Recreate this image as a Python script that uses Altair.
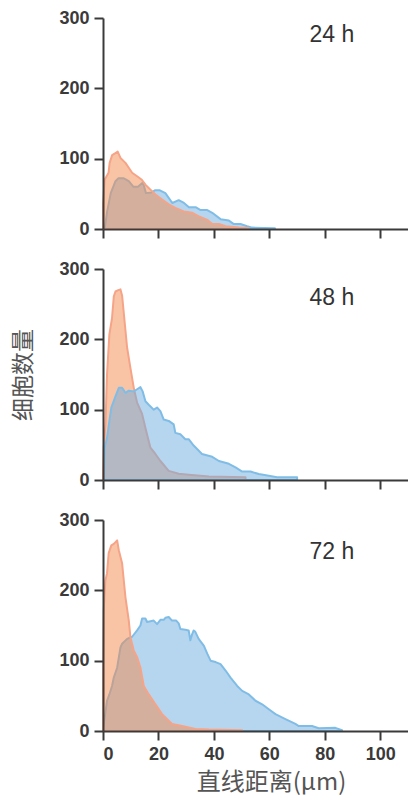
import altair as alt
import pandas as pd

# ---------------- data ----------------
panel_labels = ["24 h", "48 h", "72 h"]
label_x = [74.5, 74.5, 74.5]
label_y = [266, 249, 245]

# 24 h
orange_24_x = [0, 0.6, 2, 2.4, 3.3, 4.5, 5.3, 6.3, 8.1, 9.3, 10.5, 12.3, 14, 15.3, 17.1, 18.9,
               21.3, 23.7, 26.1, 29.1, 32.2, 34.6, 37.6, 39.4, 41.8, 44.2, 49, 52.6]
orange_24_y = [35, 70, 80, 94, 105, 108, 110, 101, 94, 87, 80, 75, 70, 63, 56, 49,
               42, 35, 30, 25, 23, 18, 13, 7, 7, 4, 2, 1]
blue_24_x = [0.6, 1.5, 2.8, 4.5, 5.5, 7.5, 9.3, 11, 12.6, 14.4, 15.5, 17.5, 18.7, 20.5, 22.5,
             25, 27.3, 29.2, 31, 33.4, 35.2, 37.6, 39.4, 42.4, 45.4, 47.2, 49.6, 52, 53.8, 62]
blue_24_y = [0, 25, 51, 68, 72, 72, 68, 60, 60, 66, 51, 52, 55, 55, 51,
             37, 41, 37, 31, 31, 27, 27, 23, 14, 12, 7, 7, 4, 2, 1]

# 48 h
orange_48_x = [0, 0.25, 0.9, 1.45, 2.3, 3.25, 3.9, 4.5, 5.5, 6.3, 6.9, 7.8, 8.7, 9.9, 11.1,
               12.3, 14.1, 15.3, 17.1, 18.9, 20.7, 23.7, 27.3, 30.9, 38.2, 51.4]
orange_48_y = [10, 46, 80, 150, 207, 230, 261, 268, 270, 271, 262, 225, 188, 159, 131,
               110, 94, 74, 46, 37, 27, 13, 9, 7.5, 5, 4]
blue_48_x = [0.3, 0.6, 1.45, 2.3, 3.0, 4.5, 5.7, 6.9, 8.1, 9.3, 11.1, 12.3, 13.5, 14.3, 15.3,
             16.5, 18.3, 19.5, 20.7, 21.9, 23.7, 25.5, 26.1, 27.9, 29.7, 30.9, 32.7, 35.7,
             39.4, 41.8, 45.4, 47.8, 50.2, 53.2, 56.2, 59.8, 62.8, 70.0]
blue_48_y = [0, 46, 60, 84, 103, 119, 131, 131, 124, 127, 126, 129, 132, 126, 112,
             107, 100, 103, 98, 86, 84, 79, 67, 65, 58, 58, 49, 37,
             33, 27, 23, 18, 12, 12, 8.5, 6, 4, 4]

# 72 h
orange_72_x = [0, 0.25, 0.85, 1.45, 2.05, 3.0, 3.9, 5.1, 5.7, 6.9, 7.5, 8.1, 9.3, 9.9, 11.1,
               12.3, 13.5, 14.7, 16.5, 18.9, 21.3, 24.9, 28.5, 33.3, 38.2, 50.2]
orange_72_y = [80, 171, 214, 224, 253, 264, 266, 271, 257, 238, 214, 190, 157, 133, 114,
               105, 90, 64, 52, 38, 24, 10, 7, 3, 2, 1]
blue_72_x = [0, 0.6, 1.45, 2.3, 3.26, 3.9, 5.1, 6.3, 6.9, 8.7, 10.5, 12.3, 13.5, 14.1, 15.3,
             15.9, 17.1, 18.3, 19.5, 20.7, 21.9, 22.5, 23.7, 24.9, 26.4, 27.3, 27.9, 29.7,
             30.9, 31.5, 32.1, 32.7, 33.3, 34.5, 36.4, 37.6, 38.8, 40.6, 42.4, 44.2, 46,
             48.4, 50.2, 52.6, 55, 57.4, 59.8, 62.2, 65.8, 69.4, 70.6, 75.4, 77.8, 83.8, 86.2]
blue_72_y = [5, 19, 43, 52, 64, 76, 90, 119, 124, 131, 134, 143, 150, 160, 160,
             155, 156, 157, 152, 158, 158, 161, 162, 157, 157, 153, 145, 144,
             143, 129, 137, 143, 141, 131, 121, 110, 100, 98, 95, 86, 76,
             64, 57, 52, 43, 38, 31, 24, 17, 10, 7, 7, 4, 4.5, 1]

x_ticks = [0, 20, 40, 60, 80, 100]
y_ticks = [0, 100, 200, 300]

# ---------------- styling ----------------
AXIS_COLOR = "#3a3a3a"
ORANGE_FILL = "#f4894c"
ORANGE_LINE = "#f5a487"
BLUE_FILL = "#6eabe0"
BLUE_LINE = "#80bde6"
W, H = 305, 211


def area(xs, ys, fill, line):
    df = pd.DataFrame({"x": xs, "y": ys})
    return alt.Chart(df).mark_area(
        fill=fill, fillOpacity=0.5, stroke=line, strokeWidth=2, strokeJoin="round"
    ).encode(
        x=alt.X("x:Q"),
        y=alt.Y("y:Q"),
    )


def panel(i, ox, oy, bx, by, orange_top, bottom, middle):
    xaxis = alt.Axis(
        values=x_ticks, labels=bottom, grid=False,
        title="直线距离(μm)" if bottom else None,
        titleFont="Noto Sans CJK SC", titleFontSize=24, titleFontWeight="normal",
        titleColor="#555555", titlePadding=7, titleX=168, titleAlign="center",
        labelFont="Liberation Sans", labelFontSize=18, labelFontWeight="bold",
        labelColor=AXIS_COLOR, labelPadding=5,
        domainColor=AXIS_COLOR, domainWidth=2, tickColor=AXIS_COLOR, tickWidth=2,
        tickSize=9, zindex=1,
    )
    yaxis = alt.Axis(
        values=y_ticks, grid=False,
        title="细胞数量" if middle else None,
        titleFont="Noto Sans CJK SC", titleFontSize=23, titleFontWeight="normal",
        titleColor="#555555", titlePadding=23,
        labelFont="Liberation Sans", labelFontSize=18, labelFontWeight="bold",
        labelColor=AXIS_COLOR, labelPadding=5,
        domainColor=AXIS_COLOR, domainWidth=2, tickColor=AXIS_COLOR, tickWidth=2,
        tickSize=9, zindex=1,
    )
    xs = alt.Scale(domain=[0, 110], nice=False, zero=False)
    ys = alt.Scale(domain=[0, 300], nice=False)

    o = area(ox, oy, ORANGE_FILL, ORANGE_LINE)
    b = area(bx, by, BLUE_FILL, BLUE_LINE)
    first, second = (b, o) if orange_top else (o, b)
    first = first.encode(x=alt.X("x:Q", scale=xs, axis=xaxis),
                         y=alt.Y("y:Q", scale=ys, axis=yaxis))
    lab_df = pd.DataFrame({"lx": [label_x[i]], "ly": [label_y[i]], "t": [panel_labels[i]]})
    txt = alt.Chart(lab_df).mark_text(
        font="Liberation Sans", fontSize=23, color="#333333", align="left",
        baseline="alphabetic"
    ).encode(x="lx:Q", y="ly:Q", text="t:N")
    return alt.layer(first, second, txt).properties(width=W, height=H)


p1 = panel(0, orange_24_x, orange_24_y, blue_24_x, blue_24_y, True, False, False)
p2 = panel(1, orange_48_x, orange_48_y, blue_48_x, blue_48_y, False, False, True)
p3 = panel(2, orange_72_x, orange_72_y, blue_72_x, blue_72_y, True, True, False)

chart = alt.vconcat(p1, p2, p3, spacing=21).properties(
    padding={"left": 12, "top": 9, "right": 0, "bottom": 2},
    background="white",
).configure_view(stroke=None)

chart.save("out.html", embed_options={"renderer": "svg", "actions": False})
